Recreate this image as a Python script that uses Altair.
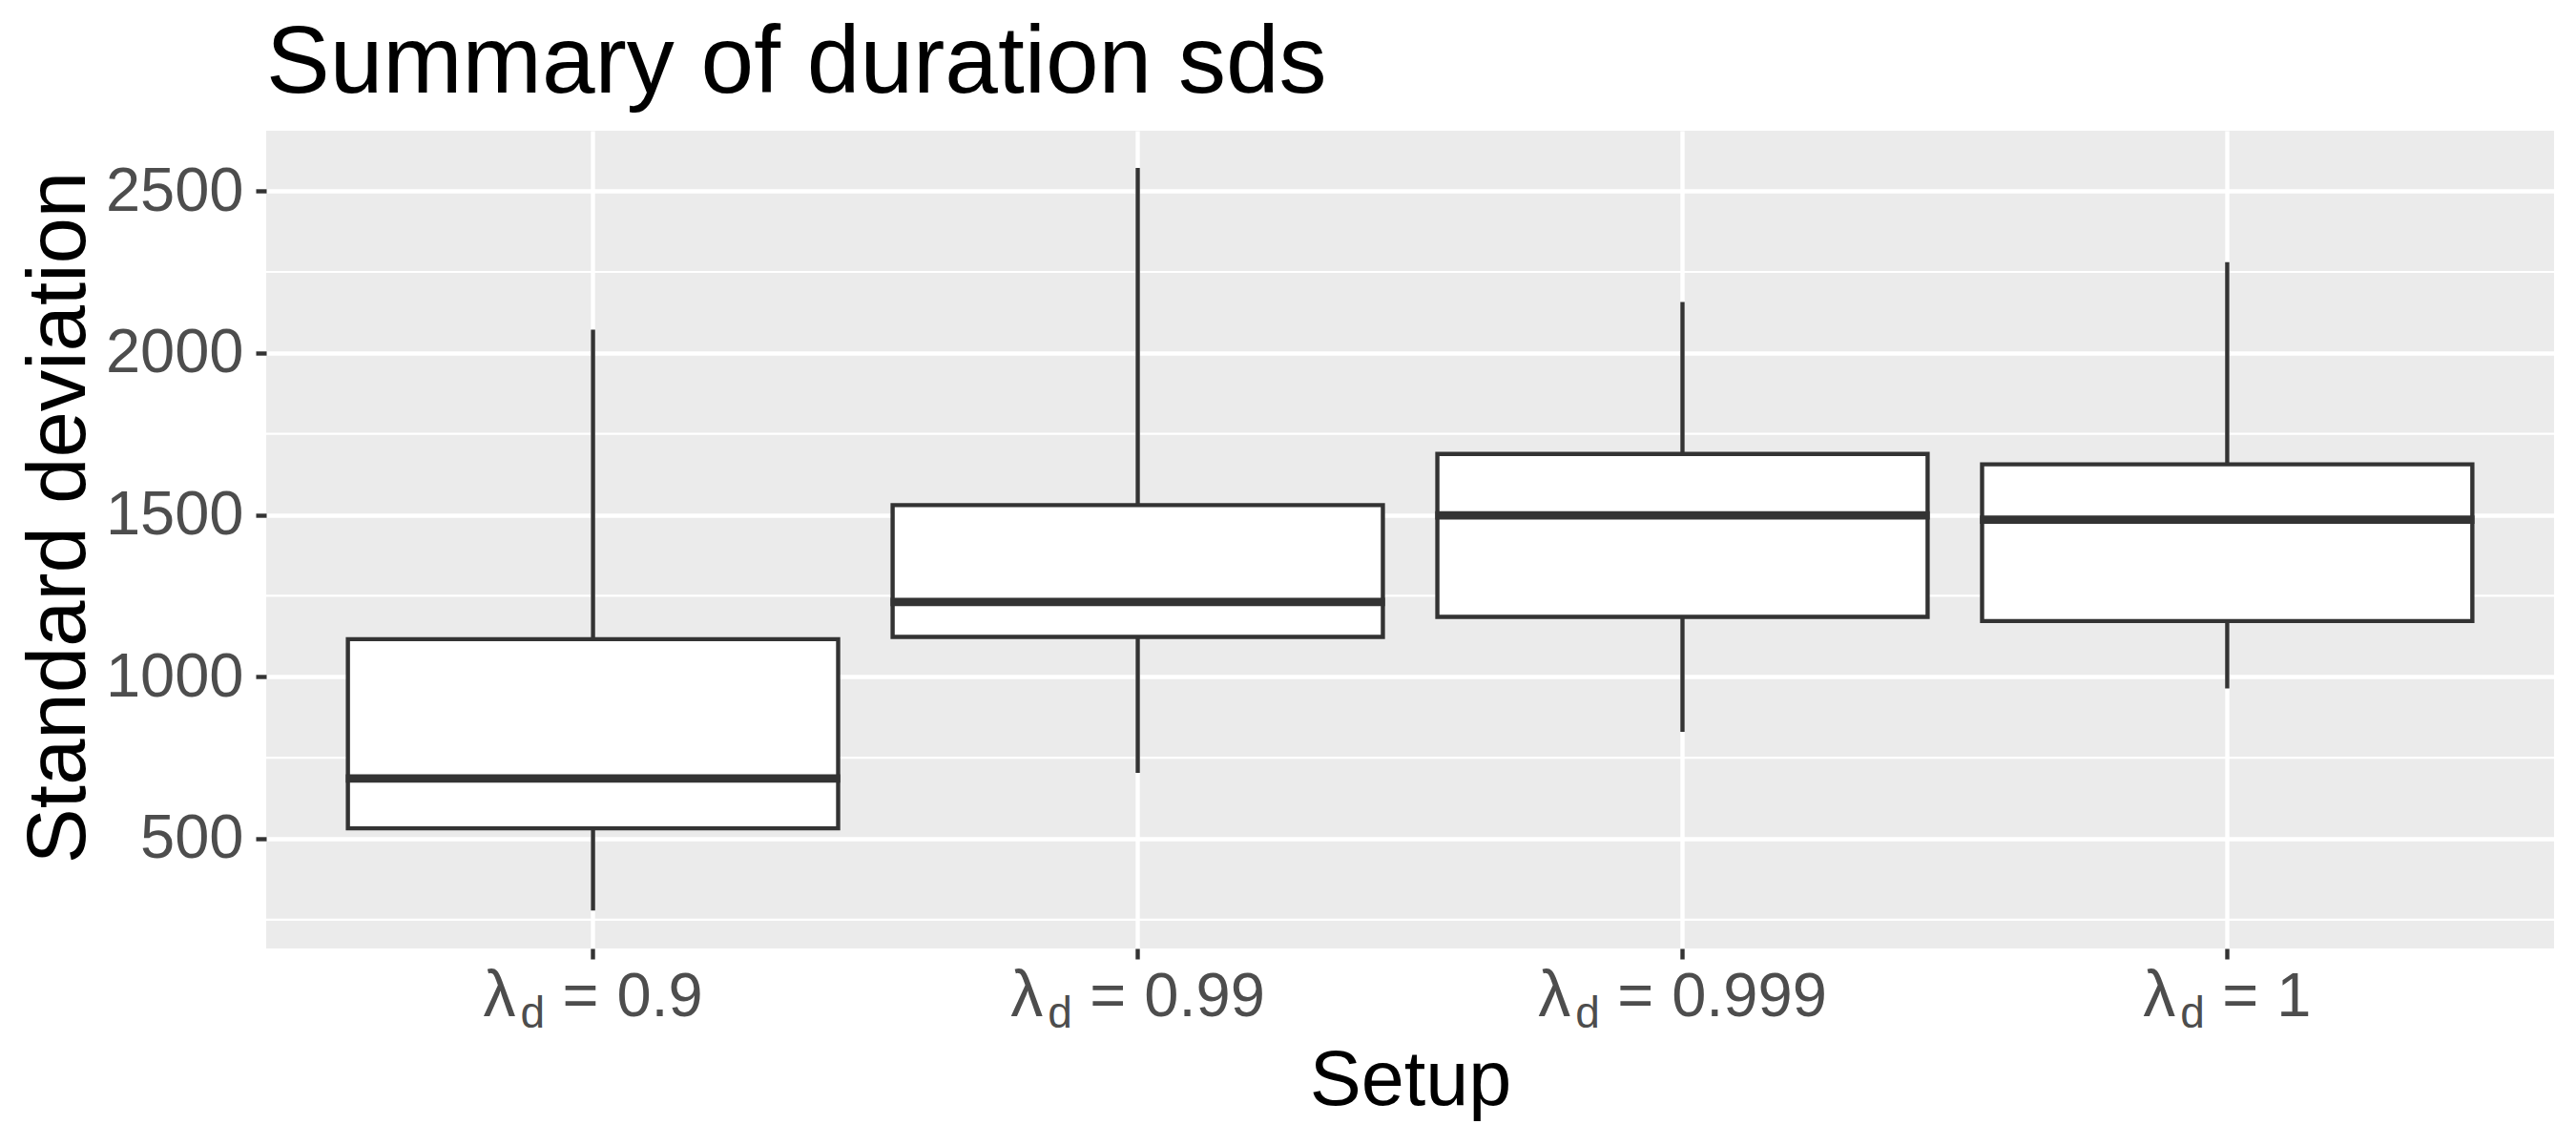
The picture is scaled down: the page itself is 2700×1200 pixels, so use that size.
import altair as alt
import pandas as pd

# ---- data ----
setups = ["0.9", "0.99", "0.999", "1"]
whisker_low = [278, 703, 830, 964]
box_q1 = [532, 1123, 1185, 1172]
box_median = [686, 1231, 1498, 1485]
box_q3 = [1116, 1530, 1688, 1656]
whisker_high = [2072, 2571, 2157, 2280]
major_breaks = [500, 1000, 1500, 2000, 2500]
minor_breaks = [250, 750, 1250, 1750, 2250]

# ---- layout / style ----
W_PLOT, H_PLOT = 2398, 857
FONT = "Liberation Sans"
LINE = "#333333"
LW = 4.4
TICK_FS = 65
SUB_FS = 46

df = pd.DataFrame({
    "setup": setups,
    "lo": whisker_low,
    "q1": box_q1,
    "med": box_median,
    "q3": box_q3,
    "hi": whisker_high,
})

x_scale = alt.Scale(domain=setups, paddingInner=0.1, paddingOuter=0.15)
y_scale = alt.Scale(domain=[161, 2686], nice=False, zero=False)

x_axis = alt.Axis(
    labels=False, title="Setup", grid=True, gridColor="white", gridWidth=LW,
    domain=False, ticks=True, tickSize=11, tickWidth=LW, tickColor=LINE,
    bandPosition=0.5,
    titleFont=FONT, titleFontSize=81, titleColor="black", titleFontWeight="normal",
    titleX=W_PLOT / 2, titleY=163, titleAlign="center", titleBaseline="alphabetic",
)
y_axis = alt.Axis(
    values=major_breaks, format="d", title="Standard deviation", grid=True,
    gridColor="white", gridWidth=LW, domain=False, ticks=True, tickSize=11,
    tickWidth=LW, tickColor=LINE,
    labelFont=FONT, labelFontSize=TICK_FS, labelColor="#4D4D4D", labelPadding=13,
    titleFont=FONT, titleFontSize=87, titleColor="black", titleFontWeight="normal",
    titleAngle=270, titleX=-191, titleY=405, titleAlign="center",
    titleBaseline="alphabetic",
)

X = alt.X("setup:N", scale=x_scale, sort=setups, axis=x_axis)

base = alt.Chart(df)

minor = alt.Chart(pd.DataFrame({"v": minor_breaks})).mark_rule(
    color="white", strokeWidth=LW / 2
).encode(
    y=alt.Y("v:Q", scale=y_scale, axis=y_axis),
    x=alt.value(0),
    x2=alt.value(W_PLOT),
)

whiskers = base.mark_rule(color=LINE, strokeWidth=LW).encode(
    x=X,
    y=alt.Y("lo:Q", scale=y_scale, axis=y_axis),
    y2="hi:Q",
)

boxes = base.mark_bar(fill="white", stroke=LINE, strokeWidth=LW).encode(
    x=X,
    y=alt.Y("q1:Q", scale=y_scale, axis=y_axis),
    y2="q3:Q",
)

step = W_PLOT / 4.2
median = base.mark_tick(
    color=LINE, opacity=1, thickness=2 * LW, size=step * 0.9 + LW
).encode(
    x=X,
    y=alt.Y("med:Q", scale=y_scale, axis=y_axis),
)

# ---- category labels: lambda with subscript d, then "= value" ----
ADV = {"0": 0.556, "1": 0.556, "9": 0.556, ".": 0.278}
D_POS = 39      # offset of subscript d from label start
EQ_POS = 83     # offset of "=" from label start
VAL_POS = 140   # offset of value from label start
LABEL_Y = H_PLOT + 71
SUB_Y = H_PLOT + 83
GREY = "#4D4D4D"

label_layers = []
for s in setups:
    val_w = sum(ADV[c] for c in s) * TICK_FS
    x0 = -(VAL_POS + val_w) / 2
    sub = base.transform_filter(alt.datum.setup == s)
    parts = [
        ("λ", TICK_FS + 3, x0, LABEL_Y),
        ("d", SUB_FS, x0 + D_POS, SUB_Y),
        ("=", TICK_FS, x0 + EQ_POS, LABEL_Y),
        (s, TICK_FS, x0 + VAL_POS, LABEL_Y),
    ]
    for txt, fs, dx, yy in parts:
        label_layers.append(
            sub.mark_text(
                text=txt, font=FONT, fontSize=fs, color=GREY,
                align="left", baseline="alphabetic", dx=dx,
            ).encode(x=X, y=alt.value(yy))
        )

chart = alt.layer(minor, whiskers, boxes, median, *label_layers).properties(
    width=W_PLOT,
    height=H_PLOT,
    background="white",
    title=alt.TitleParams(
        "Summary of duration sds", anchor="start", frame="group", font=FONT,
        fontSize=100, fontWeight="normal", color="black", baseline="alphabetic",
        offset=-60,
    ),
    padding={"left": 271, "top": 129, "right": 15, "bottom": 198},
    autosize=alt.AutoSizeParams(type="none"),
).configure_view(fill="#EBEBEB", strokeWidth=0)

chart.save("out.html", embed_options={"renderer": "svg", "actions": False})
